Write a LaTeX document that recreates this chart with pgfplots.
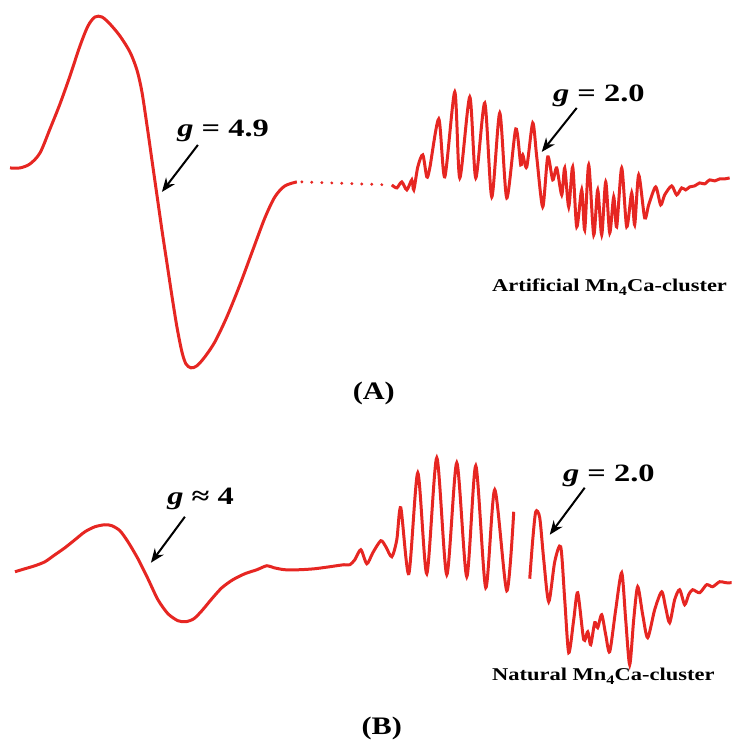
\documentclass[border=0pt]{standalone}
\usepackage{pgfplots}
\pgfplotsset{compat=1.18}
\usepackage{fontspec}
\setmainfont{Liberation Serif}
\usetikzlibrary{arrows.meta}
\definecolor{trace}{RGB}{230,38,34}
\newcommand{\glab}[1]{\scalebox{1.3}[1]{\fontsize{12.5}{14}\selectfont\bfseries #1}}
\newcommand{\clab}[1]{\scalebox{1.25}[1]{\fontsize{9}{11}\selectfont\bfseries #1}}
\newcommand{\plab}[1]{\scalebox{1.2}[1]{\fontsize{12.6}{14}\selectfont\bfseries #1}}
\newcommand{\sub}[1]{\raisebox{-0.45ex}{\fontsize{6.5}{7}\selectfont #1}}
\begin{document}
\begin{tikzpicture}
\begin{axis}[
  scale only axis, width=366pt, height=370pt,
  xmin=0, xmax=732, ymin=0, ymax=740, y dir=reverse,
  axis line style={draw=none}, ticks=none, clip=false,
]
% (A) broad g=4.9 signal
\addplot[trace, line width=1.5pt, smooth, tension=0.5] coordinates {
(10,168)(20,168)(30,164)(40,153)(50,129)(60,104)(70,76)(80,46)(88,26)(95,17)
(102,17)(110,24)(120,36)(130,52)(137,70)(142,92)(147,125)(152,160)(157,195)
(162,230)(167,263)(172,296)(177,327)(182,352)(186,364)(191,368)(197,366)
(205,357)(215,342)(227,317)(240,285)(253,250)(265,218)(275,197)(285,186)(297,182)
};
\addplot[trace, line width=1.6pt, line cap=round, dash pattern=on 0pt off 5pt] coordinates {(302,182)(390,185)};
% (A) hyperfine
\addplot[trace, line width=1.5pt, smooth, tension=0.45] coordinates {
(392,185)(397,188)(402,182)(407,190)(412,180)(414,190)(418,167)(423,155)(427,177)
(430,168)(439,119)(445,177)(455,92)(460,178)(470,97)(476,178)(485,103)(492,197)
(500,113)(507,198)(516,129)(521,165)(523,155)(527,167)(533,123)(537,157)(543,207)
(548,157)(553,180)(557,168)(562,195)(565,168)(569,207)(573,167)(577,227)(582,190)
(585,230)(589,165)(594,235)(598,190)(602,235)(606,182)(610,233)(614,197)(617,227)
(622,168)(627,227)(632,193)(635,225)(639,175)(645,218)(649,205)(656,187)(661,205)
(665,195)(672,186)(677,195)(682,188)(686,190)(690,187)(695,186)(700,183)(705,184)
(710,180)(715,181)(720,179)(725,179)(730,178)
};
% (B) broad g~4 signal and first hyperfine half
\addplot[trace, line width=1.5pt, smooth, tension=0.45] coordinates {
(15,572)(25,569)(35,566)(45,562)(55,555)(65,548)(75,540)(85,532)(95,527)(105,525)
(112,526)(120,531)(128,542)(138,559)(148,579)(158,600)(168,614)(178,621)(186,622)
(194,619)(202,611)(212,599)(222,588)(233,580)(245,574)(257,570)(267,566)(274,568)
(285,570)(300,570)(315,569)(330,567)(344,565)(350,565)(355,560)(361,550)(367,564)
(373,553)(381,541)(386,547)(392,557)(397,540)(401,508)(409,574)(418,473)(427,574)
(437,458)(447,575)(457,463)(467,577)(476,466)(486,588)(495,490)(507,591)(514,512)
};
% (B) second hyperfine half
\addplot[trace, line width=1.5pt, smooth, tension=0.45] coordinates {
(530,579)(533,540)(536,512)(540,518)(544,560)(549,602)(555,562)(561,547)(565,600)
(569,653)(574,620)(578,593)(584,640)(588,632)(591,645)(595,623)(598,628)(602,615)
(606,635)(610,652)(616,610)(622,573)(626,620)(630,665)(634,620)(638,587)(643,615)
(648,638)(655,610)(662,592)(666,608)(670,623)(675,600)(680,590)(685,605)(689,595)
(693,590)(700,593)(707,585)(713,587)(720,582)(726,583)(732,583)
};
% annotations
\draw[-{Stealth[length=7pt,width=5.5pt]}, line width=1pt] (axis cs:198,145) -- (axis cs:162,192);
\draw[-{Stealth[length=7pt,width=5.5pt]}, line width=1pt] (axis cs:577,108) -- (axis cs:542,152);
\draw[-{Stealth[length=7pt,width=5.5pt]}, line width=1pt] (axis cs:185,517) -- (axis cs:151,563);
\draw[-{Stealth[length=7pt,width=5.5pt]}, line width=1pt] (axis cs:585,488) -- (axis cs:550,535);
\node[anchor=base west, inner sep=0pt] at (axis cs:177,137) {\glab{\textit{g} = 4.9}};
\node[anchor=base west, inner sep=0pt] at (axis cs:553,102) {\glab{\textit{g} = 2.0}};
\node[anchor=base west, inner sep=0pt] at (axis cs:167,505) {\glab{\textit{g} ≈ 4}};
\node[anchor=base west, inner sep=0pt] at (axis cs:563,482) {\glab{\textit{g} = 2.0}};
\node[anchor=base west, inner sep=0pt] at (axis cs:492,292) {\clab{Artificial Mn\sub{4}Ca-cluster}};
\node[anchor=base west, inner sep=0pt] at (axis cs:492,681) {\clab{Natural Mn\sub{4}Ca-cluster}};
\node[anchor=base, inner sep=0pt] at (axis cs:374,400) {\plab{(A)}};
\node[anchor=base, inner sep=0pt] at (axis cs:382,735) {\plab{(B)}};
\end{axis}
\end{tikzpicture}
\end{document}
